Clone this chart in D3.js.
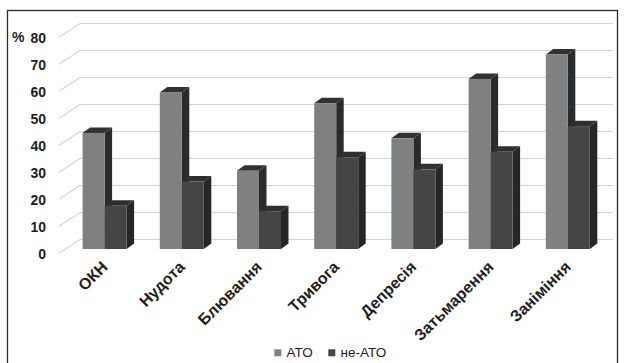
<!DOCTYPE html>
<html>
<head>
<meta charset="utf-8">
<script src="https://cdn.jsdelivr.net/npm/d3@7"></script>
<style>
  body { margin: 0; background: #fff; }
  svg { display: block; }
</style>
</head>
<body>
<svg id="chart" width="624" height="363"></svg>
<script>
// Symptom frequency (%), АТО vs не-АТО groups
const categories = ["ОКН", "Нудота", "Блювання", "Тривога", "Депресія", "Затьмарення", "Заніміння"];
const seriesNames = ["АТО", "не-АТО"];
const atoValues = [43, 58, 29, 54, 41, 63, 72];
const nonAtoValues = [16, 25, 14, 34, 29.5, 36, 45.5];
const yTicks = [0, 10, 20, 30, 40, 50, 60, 70, 80];

const seriesValues = [atoValues, nonAtoValues];
const faceColors = [
  { front: "#7f8082", top: "#323233", side: "#2b2b2c" },
  { front: "#444547", top: "#2f2f30", side: "#262627" }
];
const font = "Liberation Sans, Arial, sans-serif";

const svg = d3.select("#chart");

// outer frame
svg.append("rect")
  .attr("x", 7.5).attr("y", 10.5)
  .attr("width", 610).attr("height", 380)
  .attr("fill", "none").attr("stroke", "#2a2a2a").attr("stroke-width", 1.3);

// bar front plane
const y = d3.scaleLinear().domain([0, 80]).range([249, 33]);
const x0 = d3.scaleBand().domain(categories).range([66, 606.4]).paddingInner(0.43).paddingOuter(0.215);
const x1 = d3.scaleBand().domain(seriesNames).range([0, x0.bandwidth()]);

// oblique depth of the chart box and of the bars
const wallBack = { dx: 21, dy: -13.8 };   // front edge -> back wall
const frontOffset = 4.3;                  // bar plane -> front edge (down)
const barDepth = { dx: 7.5, dy: -5.5 };
const wallLeft = 59, wallRight = 613;

// gridlines: diagonal on the floor side, then along the back wall
const grid = svg.append("g").attr("stroke", "#d2d2d2").attr("stroke-width", 1.1).attr("fill", "none");
yTicks.forEach(v => {
  const yf = y(v) + frontOffset;
  const yb = yf + wallBack.dy;
  grid.append("path")
    .attr("d", `M${wallLeft},${yf}L${wallLeft + wallBack.dx},${yb}L${wallRight},${yb}`);
});

// y axis labels
const yLabelScale = y.copy().range(y.range().map(r => r + frontOffset + 0.5));
const yAxis = d3.axisLeft(yLabelScale).tickValues(yTicks).tickSize(0).tickPadding(0);
const ya = svg.append("g").attr("transform", "translate(46,0)").call(yAxis);
ya.select(".domain").remove();
ya.selectAll("text")
  .attr("font-family", font)
  .attr("font-size", 14).attr("font-weight", "bold").attr("fill", "#1e1e1e");
svg.append("text")
  .attr("x", 12).attr("y", yLabelScale(80)).attr("dy", "0.32em")
  .attr("font-family", font)
  .attr("font-size", 14).attr("font-weight", "bold").attr("fill", "#1e1e1e")
  .text("%");

// 3D columns
const bars = svg.append("g");
categories.forEach((cat, ci) => {
  seriesNames.forEach((s, si) => {
    const v = seriesValues[si][ci];
    const xl = x0(cat) + x1(s);
    const w = x1.bandwidth();
    const yt = y(v), yb = y(0);
    const c = faceColors[si];
    const g = bars.append("g");
    // side
    g.append("path")
      .attr("d", `M${xl + w},${yt}L${xl + w + barDepth.dx},${yt + barDepth.dy}L${xl + w + barDepth.dx},${yb + barDepth.dy}L${xl + w},${yb}Z`)
      .attr("fill", c.side);
    // top
    g.append("path")
      .attr("d", `M${xl},${yt}L${xl + barDepth.dx},${yt + barDepth.dy}L${xl + w + barDepth.dx},${yt + barDepth.dy}L${xl + w},${yt}Z`)
      .attr("fill", c.top);
    // front
    g.append("rect")
      .attr("x", xl).attr("y", yt)
      .attr("width", w).attr("height", yb - yt)
      .attr("fill", c.front);
  });
});

// category labels
svg.append("g").selectAll("text")
  .data(categories)
  .join("text")
  .attr("transform", d => `translate(${x0(d) + x0.bandwidth() / 2},${264}) rotate(-45)`)
  .attr("text-anchor", "end")
  .attr("dy", "0.35em")
  .attr("font-family", font)
  .attr("font-size", 16).attr("font-weight", "bold").attr("fill", "#1e1e1e")
  .text(d => d);

// legend
const legend = svg.append("g").attr("font-family", font).attr("font-size", 13.5);
const legendX = [274.3, 328.3];
seriesNames.forEach((s, i) => {
  legend.append("rect")
    .attr("x", legendX[i]).attr("y", 349.3).attr("width", 7).attr("height", 7)
    .attr("fill", faceColors[i].front);
  legend.append("text")
    .attr("x", legendX[i] + 12.3).attr("y", 356.6)
    .attr("fill", "#1e1e1e")
    .text(s);
});
</script>
</body>
</html>
